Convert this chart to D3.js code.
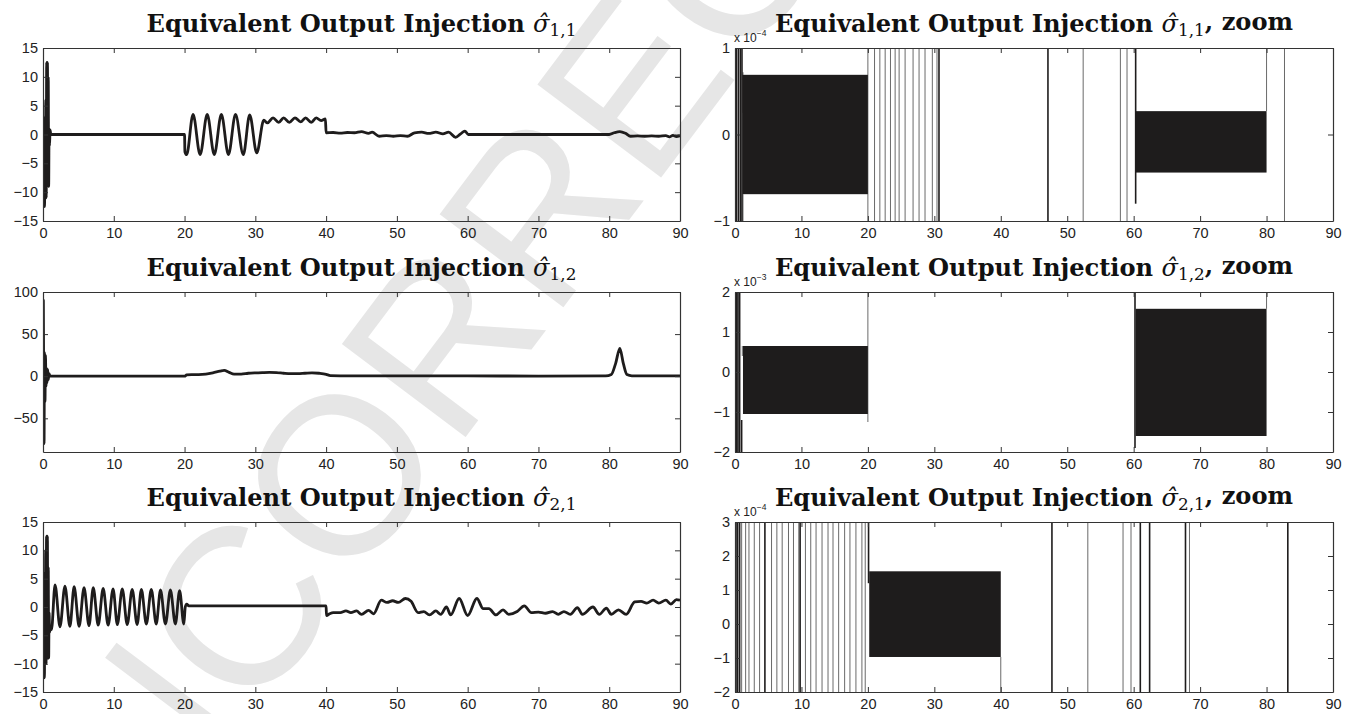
<!DOCTYPE html>
<html>
<head>
<meta charset="utf-8">
<script src="https://cdn.jsdelivr.net/npm/d3@7"></script>
<style>
  html, body { margin: 0; padding: 0; background: #fff; }
  svg { display: block; }
</style>
</head>
<body>
<svg id="fig" width="1345" height="714"></svg>
<script>
// Equivalent output injection figure: 3 rows, full signal (left) and zoom (right)

// ---------------------------------------------------------------------------
// DATA
// ---------------------------------------------------------------------------

const xTicks = [0, 10, 20, 30, 40, 50, 60, 70, 80, 90];
const yTicks15 = [-15, -10, -5, 0, 5, 10, 15];
const yTicks100 = [-50, 0, 50, 100];
const yTicksZ11 = [-1, 0, 1];
const yTicksZ12 = [-2, -1, 0, 1, 2];
const yTicksZ21 = [-2, -1, 0, 1, 2, 3];

// sigma_hat_{1,1} : [t, value]
const sigma11 = [
  [0, 0], [0.08, -12.5], [0.15, -11.5], [0.22, -12.5], [0.28, 3], [0.33, -9], [0.4, 6],
  [0.45, -11], [0.52, 12.5], [0.58, -9], [0.63, 12.5], [0.68, -8.5], [0.74, 10], [0.8, -9],
  [0.86, 1], [0.92, -2], [1.0, 0.8], [1.1, 0], [20, 0],
  [20.05, -3], [20.3, -3.5], [21.2, 3.5], [22.2, -3.5], [23.2, 3.5], [24.2, -3.5], [25.2, 3.5],
  [26.2, -3.5], [27.2, 3.5], [28.3, -3.5], [29.2, 3.4], [30.2, -3.2], [31.2, 2.5], [31.7, 2.0],
  [32.5, 2.9], [33.3, 2.1], [34, 2.9], [34.8, 2.1], [35.6, 2.9], [36.4, 2.2], [37.1, 2.9],
  [37.9, 2.1], [38.6, 2.9], [39.3, 2.4], [39.9, 2.7], [40, 0.3], [41, 0.35], [42, 0.25],
  [43, 0.35], [44, 0.3], [45, 0.5], [46, 0.2], [46.5, 0.4], [47.5, -0.3], [48.5, -0.2],
  [49.5, -0.3], [50.5, -0.2], [51.5, -0.3], [52.5, 0.3], [53.5, 0.4], [54.5, 0.2], [55.5, 0.4],
  [56.5, 0.1], [57.3, 0.4], [58.3, -0.5], [59, 0.1], [59.6, 0.6], [60.1, 0], [80, 0],
  [80.7, 0.3], [81.5, 0.5], [82.3, 0.2], [83, -0.3], [84, -0.25], [85, -0.3], [86, -0.25],
  [87, -0.3], [88, -0.2], [88.5, -0.4], [89, -0.15], [89.5, -0.35], [90, -0.2]
];

// sigma_hat_{1,2}
const sigma12 = [
  [0, 0], [0.05, 90], [0.1, -20], [0.15, -80], [0.2, 28], [0.28, -30], [0.35, 25], [0.42, -12],
  [0.5, 10], [0.58, -8], [0.66, 8], [0.75, -4], [0.85, 3], [1.0, 0], [20, 0], [20.3, 1.5],
  [21, 2], [22, 2], [23, 2.5], [24, 4], [25, 6], [25.6, 7], [26.3, 4.5], [27, 2.5], [28, 2.5],
  [29, 3.5], [30, 4], [31, 4.3], [32, 4.5], [33, 4.3], [34, 3.5], [35, 3], [36, 3], [37, 3.5],
  [38, 4], [39, 3.5], [40, 2.3], [40.6, 0.7], [42, 0.5], [50, 0.4], [60, 0.3], [70, 0.2],
  [79.5, 0.3], [80.3, 2], [80.9, 15], [81.5, 33], [82.0, 15], [82.5, 2], [83.2, 0.5], [90, 0.3]
];

// sigma_hat_{2,1}
const sigma21 = [
  [0, 0], [0.07, -12.5], [0.14, -11], [0.2, -12.5], [0.26, 6], [0.32, -5], [0.38, 10],
  [0.44, -10], [0.5, 12.5], [0.56, -6], [0.62, 12.5], [0.68, -9], [0.74, 7], [0.8, -9],
  [0.86, -1], [0.93, -4.5], [1.05, -3.5], [1.2, -4],
  [1.7, 3.9], [2.4, -3.5], [3.1, 3.7], [3.8, -3.4], [4.4, 3.6], [5.1, -3.4], [5.8, 3.4],
  [6.5, -3.3], [7.1, 3.4], [7.8, -3.2], [8.5, 3.3], [9.2, -3.2], [9.9, 3.2], [10.5, -3.1],
  [11.2, 3.2], [11.9, -3.1], [12.6, 3.1], [13.3, -3.1], [13.9, 3.1], [14.6, -3], [15.3, 3.1],
  [16.0, -3], [16.6, 3], [17.3, -3], [18.0, 3], [18.7, -3], [19.3, 2.9], [19.9, -3],
  [20.1, 0], [20.3, 0.5], [20.6, 0.2], [40, 0.2], [40.05, -1.5], [40.5, -1.2], [41, -1],
  [42, -1], [42.8, -0.7], [43.5, -1], [44.3, -0.7], [45, -1.3], [46, -0.6], [46.7, -1.2],
  [47.8, 1.2], [48.6, 0.8], [49.4, 1.1], [50.2, 0.8], [51.2, 1.5], [52, 1], [53, -1],
  [53.8, -0.8], [54.6, -1.4], [55.5, -0.7], [56.2, -1.3], [57, 0], [57.6, -1.4], [58.8, 1.5],
  [60, -1.5], [61.3, 1.5], [62.2, -0.3], [63, -0.3], [64, -1.4], [65, -0.5], [65.8, -1.3],
  [67, -0.8], [68, 0.2], [69, -1], [70, -0.9], [71, -1.1], [72, -0.8], [72.8, -1.3],
  [73.6, -0.8], [74.5, -1.3], [75.5, -0.1], [76.2, -1.3], [77.7, 0], [78.6, -1.3],
  [79.6, -0.2], [80.3, -1.3], [81.3, -0.5], [82.4, -1.3], [83.6, 0.9], [84.5, 1],
  [85.3, 0.7], [86.2, 1.2], [87, 0.7], [88, 1.2], [88.7, 0.5], [89.5, 1.3], [90, 1.2]
];

// zoom panels: chattering bands [t0, t1, low, high], crossings [t, y0, y1]
const z11Bands = [[1.1, 20, -0.69, 0.69], [60.3, 80, -0.44, 0.27]];
const z11Dark = [[0.2, -1, 1], [0.5, -1, 1], [0.8, -1, 1], [1.05, -1, 1], [30.7, -1, 1],
  [47.1, -1, 1], [60.3, -0.8, 1]];
const z11Light = [[1.2, -1, -0.69], [1.2, 0.25, 0.72], [20, -1, 1], [21.0, -1, 1], [21.8, -1, 1],
  [22.6, -1, 1], [23.4, -1, 1], [24.1, -1, 1], [24.7, -1, 1], [25.6, -1, 1], [26.8, -1, 1],
  [27.7, -1, 1], [28.6, -1, 1], [29.7, -1, 1], [30.4, -1, 1], [52.4, -1, 1], [58.0, -1, 1],
  [59.0, -1, 1], [80, 0.27, 1], [82.7, -1, 1]];

const z12Bands = [[1.2, 20, -1.05, 0.65], [60.3, 80, -1.6, 1.58]];
const z12Dark = [[0.25, -2, 2], [0.45, -2, 2], [0.7, -2, 2], [1.0, -2, -1.2], [60.2, -1.9, 2]];
const z12Light = [[1.1, 0.4, 0.65], [20, -1.25, 2], [80, 1.58, 2]];

const z21Bands = [[20.2, 40, -0.97, 1.55]];
const z21Dark = [[0.15, -2, 3], [0.4, -2, 3], [0.7, -2, 3], [4.5, -2, 3], [9.8, -2, 3],
  [20.1, 1.2, 3], [47.7, -2, 3], [61.0, -2, 3], [62.4, -2, 3], [67.8, -2, 3], [83.2, -2, 3]];
const z21Light = [[1.0, -2, 3], [1.6, -2, 3], [2.1, -2, 3], [2.9, -2, 3], [3.7, -2, 3],
  [5.5, -2, 3], [6.3, -2, 3], [7.1, -2, 3], [8.05, -2, 3], [8.8, -2, 3], [9.6, -2, 3],
  [10.6, -2, 3], [11.4, -2, 3], [12.2, -2, 3], [13.1, -2, 3], [14.0, -2, 3], [14.75, -2, 3],
  [15.6, -2, 3], [16.5, -2, 3], [17.3, -2, 3], [18.2, -2, 3], [19.1, -2, 3], [19.6, -2, 3],
  [40, -2, -0.97], [53.1, -2, 3], [58.4, -2, 3], [59.6, -2, 3], [68.4, -2, 3]];

const titleText = "Equivalent Output Injection ";
const subscripts = ["1,1", "1,2", "2,1"];
const zoomExponents = ["\u22124", "\u22123", "\u22124"];
const watermark = "UNCORRECTED";

// ---------------------------------------------------------------------------
// LAYOUT
// ---------------------------------------------------------------------------

const svg = d3.select("#fig");
const cols = [[43, 680], [735, 1333]];
const rows = [[48, 221], [292, 452], [522, 692]];
const INK = "#1e1c1c";
const tickFont = "'Liberation Sans',Arial,sans-serif";
const serif = "'DejaVu Serif','Liberation Serif',serif";
const TITLE_W = 430;   // measured width of the left titles in the reference

// watermark behind everything
svg.append("text")
  .attr("transform", "translate(520,235) rotate(-53)")
  .attr("text-anchor", "middle")
  .attr("dominant-baseline", "central")
  .style("font-family", "'Liberation Sans',Arial,sans-serif")
  .style("font-size", "225px")
  .style("fill", "#e6e6e6")
  .text(watermark);

const fmt = d => d < 0 ? "\u2212" + Math.abs(d) : String(d);

function makeAxes(col, row, yDomain, yTicks) {
  const [x0, x1] = cols[col];
  const [y0, y1] = rows[row];
  const x = d3.scaleLinear().domain([0, 90]).range([x0, x1]);
  const y = d3.scaleLinear().domain(yDomain).range([y1, y0]);
  const g = svg.append("g");

  const clipId = `clip-${col}-${row}`;
  g.append("clipPath").attr("id", clipId)
    .append("rect").attr("x", x0).attr("y", y0).attr("width", x1 - x0).attr("height", y1 - y0);
  const plot = g.append("g").attr("clip-path", `url(#${clipId})`);

  const styleAxis = sel => {
    sel.selectAll("path.domain").attr("stroke", "#333").attr("stroke-width", 1.2);
    sel.selectAll(".tick line").attr("stroke", "#333");
    sel.selectAll(".tick text")
      .style("font-family", tickFont).style("font-size", "14.5px").attr("fill", "#222");
  };

  g.append("g").attr("transform", `translate(0,${y1})`)
    .call(d3.axisBottom(x).tickValues(xTicks).tickFormat(fmt).tickSizeInner(-5).tickSizeOuter(0).tickPadding(7))
    .call(styleAxis);
  g.append("g").attr("transform", `translate(0,${y0})`)
    .call(d3.axisTop(x).tickValues(xTicks).tickFormat("").tickSizeInner(-5).tickSizeOuter(0))
    .call(styleAxis);
  g.append("g").attr("transform", `translate(${x0},0)`)
    .call(d3.axisLeft(y).tickValues(yTicks).tickFormat(fmt).tickSizeInner(-5).tickSizeOuter(0).tickPadding(5))
    .call(styleAxis);
  g.append("g").attr("transform", `translate(${x1},0)`)
    .call(d3.axisRight(y).tickValues(yTicks).tickFormat("").tickSizeInner(-5).tickSizeOuter(0))
    .call(styleAxis);

  return { x, y, plot, x0, x1, y0, y1 };
}

const titles = [];
function addTitle(ax, sub, zoom, exponent) {
  const t = svg.append("text")
    .attr("x", (ax.x0 + ax.x1) / 2).attr("y", ax.y0 - 16)
    .attr("text-anchor", "middle")
    .style("font-family", serif).style("font-size", "24px").attr("fill", "#111");
  t.append("tspan").style("font-weight", "bold").text(titleText);
  t.append("tspan").style("font-style", "italic").text("\u03c3\u0302");
  t.append("tspan").attr("dy", "0.22em").style("font-size", "0.7em").text(sub);
  if (zoom) {
    t.append("tspan").attr("dy", "-0.22em").style("font-weight", "bold").text(", zoom");
    const e = svg.append("text")
      .attr("x", ax.x0 - 1).attr("y", ax.y0 - 6)
      .style("font-family", tickFont).style("font-size", "12px").attr("fill", "#222");
    e.append("tspan").text("x 10");
    e.append("tspan").attr("dy", -6).style("font-size", "8.5px").text(exponent);
  } else {
    titles.push(t);
  }
  return t;
}

function drawSignal(ax, series) {
  const line = d3.line()
    .x(d => ax.x(d[0]))
    .y(d => ax.y(d[1]))
    .curve(d3.curveMonotoneX);
  ax.plot.append("path")
    .datum(series)
    .attr("d", line)
    .attr("fill", "none")
    .attr("stroke", INK)
    .attr("stroke-width", 2.8)
    .attr("stroke-linejoin", "round");
}

function drawZoom(ax, bands, dark, light) {
  ax.plot.selectAll("line.light").data(light).join("line").attr("class", "light")
    .attr("x1", d => ax.x(d[0])).attr("x2", d => ax.x(d[0]))
    .attr("y1", d => ax.y(d[1])).attr("y2", d => ax.y(d[2]))
    .attr("stroke", "#6a6a6a").attr("stroke-width", 1);
  ax.plot.selectAll("rect.band").data(bands).join("rect").attr("class", "band")
    .attr("x", d => ax.x(d[0]))
    .attr("width", d => ax.x(d[1]) - ax.x(d[0]))
    .attr("y", d => ax.y(d[3]))
    .attr("height", d => ax.y(d[2]) - ax.y(d[3]))
    .attr("fill", INK);
  ax.plot.selectAll("line.dark").data(dark).join("line").attr("class", "dark")
    .attr("x1", d => ax.x(d[0])).attr("x2", d => ax.x(d[0]))
    .attr("y1", d => ax.y(d[1])).attr("y2", d => ax.y(d[2]))
    .attr("stroke", INK).attr("stroke-width", 1.6);
}

// ---------------------------------------------------------------------------
// PANELS
// ---------------------------------------------------------------------------

const allTitles = [];

const a1 = makeAxes(0, 0, [-15, 15], yTicks15);
drawSignal(a1, sigma11);
allTitles.push(addTitle(a1, subscripts[0], false));

const a2 = makeAxes(1, 0, [-1, 1], yTicksZ11);
drawZoom(a2, z11Bands, z11Dark, z11Light);
allTitles.push(addTitle(a2, subscripts[0], true, zoomExponents[0]));

const a3 = makeAxes(0, 1, [-90, 100], yTicks100);
drawSignal(a3, sigma12);
allTitles.push(addTitle(a3, subscripts[1], false));

const a4 = makeAxes(1, 1, [-2, 2], yTicksZ12);
drawZoom(a4, z12Bands, z12Dark, z12Light);
allTitles.push(addTitle(a4, subscripts[1], true, zoomExponents[1]));

const a5 = makeAxes(0, 2, [-15, 15], yTicks15);
drawSignal(a5, sigma21);
allTitles.push(addTitle(a5, subscripts[2], false));

const a6 = makeAxes(1, 2, [-2, 3], yTicksZ21);
drawZoom(a6, z21Bands, z21Dark, z21Light);
allTitles.push(addTitle(a6, subscripts[2], true, zoomExponents[2]));

// size all titles so the plain ones span the reference width
const measured = titles[0].node().getBBox().width;
const titleSize = 24 * TITLE_W / measured;
allTitles.forEach(t => t.style("font-size", titleSize + "px"));
</script>
</body>
</html>
